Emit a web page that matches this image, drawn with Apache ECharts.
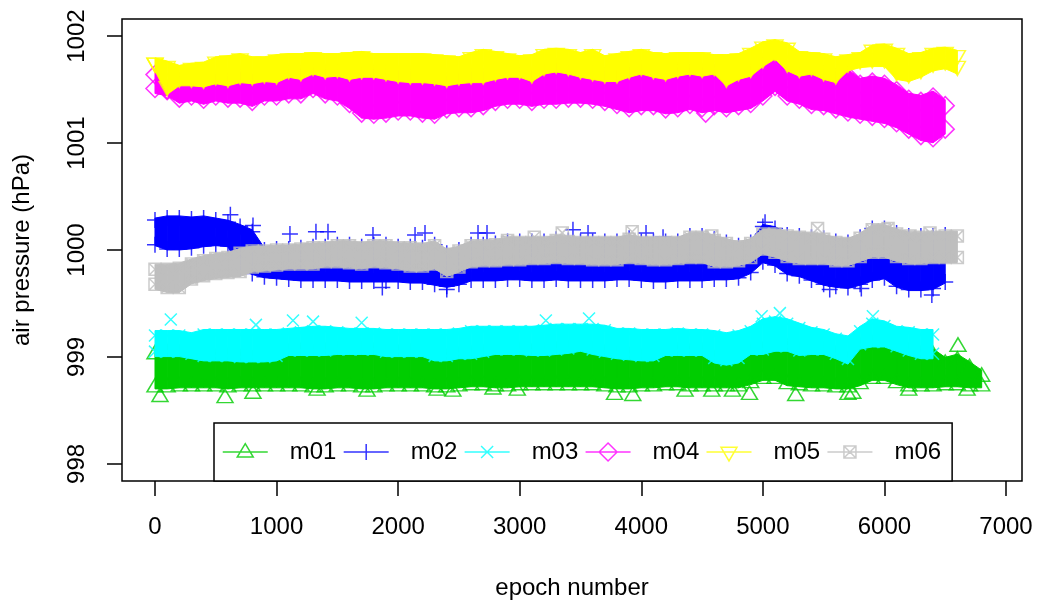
<!DOCTYPE html>
<html>
<head>
<meta charset="utf-8">
<script src="https://cdn.jsdelivr.net/npm/echarts@6/dist/echarts.min.js"></script>
<style>
  html, body { margin: 0; padding: 0; background: #ffffff; }
  #chart { width: 1040px; height: 600px; }
</style>
</head>
<body>
<div id="chart"></div>
<script>
// Sampled epochs (every 100) at which the upper and lower edge of each sensor's readings are given
const epochs = [
  0, 100, 200, 300, 400, 500, 600, 700, 800, 900,
  1000, 1100, 1200, 1300, 1400, 1500, 1600, 1700, 1800, 1900,
  2000, 2100, 2200, 2300, 2400, 2500, 2600, 2700, 2800, 2900,
  3000, 3100, 3200, 3300, 3400, 3500, 3600, 3700, 3800, 3900,
  4000, 4100, 4200, 4300, 4400, 4500, 4600, 4700, 4800, 4900,
  5000, 5100, 5200, 5300, 5400, 5500, 5600, 5700, 5800, 5900,
  6000, 6100, 6200, 6300, 6400, 6500, 6600, 6700, 6800
];

const xTicks = [0, 1000, 2000, 3000, 4000, 5000, 6000, 7000];
const yTicks = [998, 999, 1000, 1001, 1002];

// m01 (hPa)
const m01Hi = [
  999.03, 999.04, 999.03, 999.02, 999.00, 998.99, 999.00, 998.99, 998.98, 998.99,
  999.00, 999.04, 999.05, 999.04, 999.05, 999.06, 999.05, 999.06, 999.05, 999.04,
  999.03, 999.04, 999.03, 999.00, 998.99, 999.01, 999.02, 999.03, 999.05, 999.06,
  999.05, 999.04, 999.05, 999.06, 999.07, 999.08, 999.06, 999.03, 999.02, 999.01,
  998.99, 999.00, 999.04, 999.05, 999.04, 999.05, 998.98, 998.96, 998.98, 999.05,
  999.06, 999.08, 999.09, 999.05, 999.06, 999.06, 999.02, 998.97, 999.10, 999.12,
  999.12, 999.09, 999.05, 999.02, 999.02, 998.94, 998.97, 998.90, 998.82
];
const m01Lo = [
  998.72, 998.72, 998.73, 998.73, 998.73, 998.73, 998.72, 998.73, 998.73, 998.73,
  998.73, 998.73, 998.73, 998.72, 998.72, 998.73, 998.73, 998.72, 998.72, 998.73,
  998.73, 998.73, 998.73, 998.72, 998.72, 998.73, 998.74, 998.74, 998.73, 998.73,
  998.74, 998.74, 998.74, 998.74, 998.74, 998.74, 998.74, 998.73, 998.72, 998.72,
  998.73, 998.73, 998.74, 998.74, 998.73, 998.73, 998.73, 998.73, 998.73, 998.76,
  998.80, 998.80, 998.75, 998.74, 998.73, 998.73, 998.72, 998.72, 998.75, 998.80,
  998.80, 998.76, 998.73, 998.73, 998.73, 998.74, 998.74, 998.73, 998.73
];
const m01Out = [
  [41, 998.63], [576, 998.62], [806, 998.66], [1333, 998.69], [1744, 998.68],
  [2320, 998.69], [2450, 998.68], [2780, 998.70], [2980, 998.69], [3780, 998.65],
  [3930, 998.64], [4360, 998.68], [4580, 998.68], [4750, 998.68], [4890, 998.65],
  [5270, 998.64], [5700, 998.65], [5740, 998.66], [6200, 998.69], [6605, 999.10],
  [6680, 998.69]
];

// m02
const m02Hi = [
  1000.28, 1000.30, 1000.30, 1000.29, 1000.30, 1000.28, 1000.26, 1000.22, 1000.17, 1000.00,
  1000.01, 1000.01, 1000.02, 1000.03, 1000.03, 1000.05, 1000.05, 1000.03, 1000.05, 1000.05,
  1000.03, 1000.03, 1000.02, 1000.05, 999.97, 1000.00, 1000.05, 1000.05, 1000.06, 1000.08,
  1000.08, 1000.08, 1000.08, 1000.10, 1000.09, 1000.08, 1000.08, 1000.08, 1000.08, 1000.11,
  1000.08, 1000.08, 1000.08, 1000.08, 1000.13, 1000.13, 1000.10, 1000.07, 1000.04, 1000.07,
  1000.22, 1000.20, 1000.14, 1000.13, 1000.12, 1000.11, 1000.08, 1000.07, 1000.12, 1000.20,
  1000.20, 1000.16, 1000.13, 1000.13, 1000.13, 1000.14
];
const m02Lo = [
  1000.05, 1000.01, 1000.01, 1000.02, 1000.04, 1000.05, 1000.04, 999.83, 999.78, 999.75,
  999.74, 999.73, 999.72, 999.72, 999.72, 999.72, 999.71, 999.71, 999.71, 999.71,
  999.71, 999.70, 999.70, 999.68, 999.66, 999.68, 999.72, 999.72, 999.72, 999.73,
  999.73, 999.72, 999.72, 999.73, 999.72, 999.72, 999.72, 999.72, 999.73, 999.73,
  999.72, 999.71, 999.71, 999.72, 999.72, 999.72, 999.73, 999.73, 999.74, 999.79,
  999.89, 999.86, 999.78, 999.76, 999.72, 999.68, 999.66, 999.65, 999.68, 999.72,
  999.74, 999.66, 999.63, 999.63, 999.64, 999.70
];
const m02Out = [
  [620, 1000.33], [806, 1000.23], [1110, 1000.15], [1324, 1000.17], [1423, 1000.17],
  [1793, 1000.14], [2139, 1000.14], [2221, 1000.16], [2657, 1000.16], [2731, 1000.16],
  [3438, 1000.19], [3562, 1000.16], [4039, 1000.16], [4179, 1000.12], [5018, 1000.26],
  [1870, 999.65], [2400, 999.63], [5550, 999.63], [5810, 999.64], [6390, 999.58]
];

// m03
const m03Hi = [
  999.20, 999.20, 999.20, 999.18, 999.21, 999.21, 999.21, 999.21, 999.21, 999.21,
  999.21, 999.22, 999.23, 999.24, 999.24, 999.23, 999.22, 999.22, 999.22, 999.21,
  999.21, 999.21, 999.21, 999.21, 999.21, 999.22, 999.24, 999.24, 999.24, 999.24,
  999.24, 999.24, 999.25, 999.26, 999.26, 999.26, 999.26, 999.25, 999.22, 999.22,
  999.21, 999.21, 999.21, 999.22, 999.21, 999.21, 999.20, 999.18, 999.20, 999.24,
  999.31, 999.33, 999.31, 999.27, 999.23, 999.21, 999.17, 999.15, 999.24, 999.31,
  999.29, 999.24, 999.23, 999.21, 999.21
];
const m03Lo = [
  999.05, 999.05, 999.05, 999.03, 999.01, 999.01, 999.01, 999.00, 999.00, 999.00,
  999.01, 999.06, 999.06, 999.06, 999.06, 999.07, 999.07, 999.07, 999.07, 999.05,
  999.05, 999.05, 999.05, 999.01, 999.01, 999.03, 999.03, 999.05, 999.07, 999.07,
  999.07, 999.06, 999.06, 999.07, 999.08, 999.10, 999.07, 999.05, 999.03, 999.02,
  999.01, 999.01, 999.06, 999.06, 999.06, 999.06, 998.99, 998.97, 998.99, 999.07,
  999.07, 999.10, 999.10, 999.06, 999.07, 999.07, 999.03, 998.98, 999.12, 999.14,
  999.14, 999.10, 999.06, 999.03, 999.03
];
const m03Out = [
  [130, 999.35], [830, 999.30], [1135, 999.34], [1300, 999.33], [1700, 999.32],
  [3215, 999.34], [3570, 999.36], [4990, 999.38], [5140, 999.41], [5905, 999.38]
];

// m04
const m04Hi = [
  1001.64, 1001.50, 1001.57, 1001.57, 1001.56, 1001.59, 1001.57, 1001.61, 1001.59, 1001.62,
  1001.61, 1001.65, 1001.64, 1001.68, 1001.65, 1001.66, 1001.64, 1001.65, 1001.65, 1001.64,
  1001.62, 1001.61, 1001.61, 1001.59, 1001.57, 1001.59, 1001.61, 1001.61, 1001.64, 1001.65,
  1001.65, 1001.62, 1001.68, 1001.70, 1001.68, 1001.65, 1001.64, 1001.62, 1001.62, 1001.65,
  1001.68, 1001.65, 1001.64, 1001.66, 1001.68, 1001.66, 1001.68, 1001.57, 1001.64, 1001.66,
  1001.72, 1001.74, 1001.68, 1001.66, 1001.68, 1001.64, 1001.61, 1001.63, 1001.55, 1001.57,
  1001.55, 1001.49, 1001.41, 1001.39, 1001.43, 1001.35
];
const m04Lo = [
  1001.51, 1001.49, 1001.42, 1001.44, 1001.41, 1001.44, 1001.42, 1001.42, 1001.39, 1001.44,
  1001.44, 1001.46, 1001.46, 1001.51, 1001.46, 1001.44, 1001.37, 1001.28, 1001.27, 1001.28,
  1001.30, 1001.30, 1001.28, 1001.27, 1001.32, 1001.33, 1001.33, 1001.35, 1001.39, 1001.41,
  1001.41, 1001.39, 1001.41, 1001.41, 1001.42, 1001.42, 1001.41, 1001.39, 1001.36, 1001.33,
  1001.35, 1001.35, 1001.32, 1001.33, 1001.36, 1001.33, 1001.35, 1001.33, 1001.35, 1001.37,
  1001.44, 1001.53, 1001.44, 1001.41, 1001.36, 1001.35, 1001.32, 1001.29, 1001.27, 1001.25,
  1001.23, 1001.19, 1001.13, 1001.07, 1001.05, 1001.13
];
const m04Out = [[4530, 1001.28]];

// m05
const m05Hi = [
  1001.75, 1001.72, 1001.68, 1001.70, 1001.71, 1001.76, 1001.77, 1001.79, 1001.76, 1001.76,
  1001.78, 1001.79, 1001.79, 1001.80, 1001.79, 1001.79, 1001.80, 1001.81, 1001.79, 1001.79,
  1001.79, 1001.79, 1001.79, 1001.78, 1001.77, 1001.76, 1001.80, 1001.83, 1001.81, 1001.79,
  1001.77, 1001.78, 1001.83, 1001.84, 1001.83, 1001.80, 1001.83, 1001.77, 1001.79, 1001.81,
  1001.83, 1001.80, 1001.79, 1001.80, 1001.80, 1001.80, 1001.78, 1001.78, 1001.79, 1001.84,
  1001.90, 1001.92, 1001.89, 1001.81, 1001.80, 1001.79, 1001.76, 1001.78, 1001.80, 1001.87,
  1001.88, 1001.84, 1001.79, 1001.80, 1001.84, 1001.85, 1001.82
];
const m05Lo = [
  1001.75, 1001.53, 1001.61, 1001.61, 1001.60, 1001.63, 1001.61, 1001.64, 1001.63, 1001.65,
  1001.64, 1001.69, 1001.67, 1001.72, 1001.69, 1001.70, 1001.67, 1001.69, 1001.69, 1001.67,
  1001.65, 1001.64, 1001.64, 1001.63, 1001.61, 1001.63, 1001.64, 1001.64, 1001.67, 1001.69,
  1001.69, 1001.65, 1001.72, 1001.74, 1001.72, 1001.69, 1001.67, 1001.65, 1001.65, 1001.69,
  1001.72, 1001.69, 1001.67, 1001.70, 1001.72, 1001.70, 1001.72, 1001.61, 1001.67, 1001.70,
  1001.79, 1001.86, 1001.75, 1001.70, 1001.72, 1001.67, 1001.64, 1001.75, 1001.78, 1001.79,
  1001.79, 1001.67, 1001.65, 1001.69, 1001.75, 1001.77, 1001.72
];
const m05Out = [];

// m06
const m06Hi = [
  999.82, 999.82, 999.83, 999.87, 999.90, 999.92, 999.93, 999.97, 999.99, 999.99,
  1000.00, 1000.00, 1000.01, 1000.02, 1000.02, 1000.04, 1000.04, 1000.02, 1000.04, 1000.04,
  1000.02, 1000.02, 1000.01, 1000.04, 999.96, 999.99, 1000.04, 1000.04, 1000.05, 1000.07,
  1000.07, 1000.07, 1000.07, 1000.09, 1000.08, 1000.07, 1000.07, 1000.07, 1000.07, 1000.10,
  1000.07, 1000.07, 1000.07, 1000.07, 1000.12, 1000.12, 1000.09, 1000.06, 1000.03, 1000.06,
  1000.15, 1000.15, 1000.13, 1000.12, 1000.11, 1000.10, 1000.07, 1000.06, 1000.11, 1000.19,
  1000.19, 1000.15, 1000.12, 1000.12, 1000.12, 1000.13, 1000.13
];
const m06Lo = [
  999.68, 999.65, 999.65, 999.73, 999.76, 999.78, 999.79, 999.80, 999.84, 999.85,
  999.86, 999.87, 999.87, 999.87, 999.89, 999.89, 999.88, 999.87, 999.89, 999.88,
  999.87, 999.85, 999.85, 999.87, 999.80, 999.84, 999.89, 999.90, 999.90, 999.91,
  999.91, 999.92, 999.92, 999.93, 999.92, 999.92, 999.91, 999.91, 999.91, 999.93,
  999.92, 999.91, 999.91, 999.92, 999.93, 999.93, 999.89, 999.89, 999.90, 999.93,
  1000.01, 999.98, 999.94, 999.92, 999.92, 999.92, 999.90, 999.90, 999.94, 999.98,
  999.98, 999.94, 999.92, 999.92, 999.93, 999.93, 999.93
];
const m06Out = [
  [2900, 1000.09], [3120, 1000.12], [3350, 1000.16], [3925, 1000.17], [4580, 1000.13],
  [5450, 1000.20], [6030, 1000.20], [6210, 1000.13], [6375, 1000.16]
];

const FONT = "'Liberation Sans', Arial, Helvetica, sans-serif";
const CLEAR = 'rgba(0,0,0,0)';

// Plot symbols, how far (px) the crowded symbols spread the solid body past
// the outermost readings, and legend keys (line with the symbol drawn through it)
const sensors = [
  { name: 'm01', hi: m01Hi, lo: m01Lo, extra: m01Out, color: '#00CD00',
    symbol: 'triangle', size: [16, 13.4], offset: [0, -1.7], spread: [6, 2],
    icon: 'path://M0,0M62,18M0,9H45M22.5,0.6L30.5,14H14.5Z' },
  { name: 'm02', hi: m02Hi, lo: m02Lo, extra: m02Out, color: '#0000FF',
    symbol: 'path://M5,0V10M0,5H10', size: 16, offset: [0, 0], spread: [2, 1],
    icon: 'path://M0,0M62,18M0,9H45M22.5,1V17M14.5,9H30.5' },
  { name: 'm03', hi: m03Hi, lo: m03Lo, extra: m03Out, color: '#00FFFF',
    symbol: 'path://M0,0L10,10M10,0L0,10', size: 12, offset: [0, 0], spread: [5, 5],
    icon: 'path://M0,0M62,18M0,9H45M16.5,3L28.5,15M28.5,3L16.5,15' },
  { name: 'm04', hi: m04Hi, lo: m04Lo, extra: m04Out, color: '#FF00FF',
    symbol: 'diamond', size: 18, offset: [0, 0], spread: [6, 5],
    icon: 'path://M0,0M62,18M0,9H45M22.5,0L31.5,9L22.5,18L13.5,9Z' },
  { name: 'm05', hi: m05Hi, lo: m05Lo, extra: m05Out, color: '#FFFF00',
    symbol: 'path://M0,0H10L5,10Z', size: [16, 14], offset: [0, 2.3], spread: [5, 8],
    icon: 'path://M0,0M62,18M0,9H45M14.5,4.3H30.5L22.5,18Z' },
  { name: 'm06', hi: m06Hi, lo: m06Lo, extra: m06Out, color: '#BEBEBE',
    symbol: 'path://M0,0H10V10H0ZM0,0L10,10M10,0L0,10', size: 12, offset: [0, 0], spread: [5, 5],
    icon: 'path://M0,0M62,18M0,9H45M16.5,3H28.5V15H16.5ZM16.5,3L28.5,15M28.5,3L16.5,15' }
];

// Filled body between the lower and upper edge, one quad per sampling step
function bandRenderer(color, spread) {
  return function (params, api) {
    const a = api.coord([api.value(0), api.value(1)]);
    const b = api.coord([api.value(0), api.value(2)]);
    const c = api.coord([api.value(3), api.value(5)]);
    const d = api.coord([api.value(3), api.value(4)]);
    return {
      type: 'polygon',
      shape: { points: [
        [a[0], a[1] + spread[1]], [b[0], b[1] - spread[0]],
        [c[0], c[1] - spread[0]], [d[0], d[1] + spread[1]]
      ] },
      style: { fill: color, stroke: color, lineWidth: 1 }
    };
  };
}

// sensors are painted in order, each one over the previous ones
const series = [];
sensors.forEach(function (s, j) {
  const segs = [];
  for (let i = 0; i + 1 < s.hi.length; i++) {
    segs.push([epochs[i], s.lo[i], s.hi[i], epochs[i + 1], s.lo[i + 1], s.hi[i + 1]]);
  }
  series.push({
    type: 'custom', name: s.name + ' body', silent: true, z: 10 + 2 * j,
    renderItem: bandRenderer(s.color, s.spread),
    encode: { x: [0, 3], y: [1, 2, 4, 5] },
    data: segs
  });
  // individual readings along both edges plus the stray ones
  const pts = [];
  s.hi.forEach(function (v, i) { pts.push([epochs[i], v]); pts.push([epochs[i], s.lo[i]]); });
  s.extra.forEach(function (p) { pts.push(p); });
  series.push({
    type: 'scatter', name: s.name, silent: true, z: 11 + 2 * j, data: pts,
    symbol: s.symbol, symbolSize: s.size, symbolOffset: s.offset,
    itemStyle: { color: CLEAR, borderColor: s.color, borderWidth: 1.5 }
  });
});

const chart = echarts.init(document.getElementById('chart'), null, { renderer: 'canvas' });
chart.setOption({
  animation: false,
  backgroundColor: '#ffffff',
  grid: {
    left: 122, right: 18, top: 19, bottom: 119,
    outerBoundsMode: 'none', containLabel: false,
    show: true, borderColor: '#000000', borderWidth: 1.5, backgroundColor: CLEAR
  },
  xAxis: {
    type: 'value', min: -271.4, max: 7131.6,
    axisLine: { show: false, onZero: false }, splitLine: { show: false },
    axisTick: { show: true, length: 15, customValues: xTicks, lineStyle: { color: '#000', width: 1.5 } },
    axisLabel: {
      customValues: xTicks, margin: 34, fontSize: 24, color: '#000', fontFamily: FONT,
      formatter: function (v) { return String(v); }
    },
    name: 'epoch number', nameLocation: 'middle', nameGap: 95,
    nameTextStyle: { fontSize: 24, color: '#000', fontFamily: FONT }
  },
  yAxis: {
    type: 'value', min: 997.84, max: 1002.16,
    axisLine: { show: false, onZero: false }, splitLine: { show: false },
    axisTick: { show: true, length: 15, customValues: yTicks, lineStyle: { color: '#000', width: 1.5 } },
    axisLabel: {
      customValues: yTicks, rotate: 90, margin: 33, fontSize: 24, color: '#000', fontFamily: FONT,
      formatter: function (v) { return String(v); }
    },
    name: 'air pressure (hPa)', nameLocation: 'middle', nameGap: 88, nameRotate: 90,
    nameTextStyle: { fontSize: 24, color: '#000', fontFamily: FONT }
  },
  legend: {
    left: 214, top: 423, orient: 'horizontal', z: 60,
    itemWidth: 62, itemHeight: 18, itemGap: 6.5,
    padding: [17, 11, 17, 8],
    borderColor: '#000', borderWidth: 1.5, backgroundColor: '#ffffff',
    selectedMode: false,
    textStyle: { fontSize: 24, color: '#000', fontFamily: FONT },
    data: sensors.map(function (s) {
      return { name: s.name, icon: s.icon,
               itemStyle: { color: CLEAR, borderColor: s.color, borderWidth: 1.5 } };
    })
  },
  series: series
});
</script>
</body>
</html>
